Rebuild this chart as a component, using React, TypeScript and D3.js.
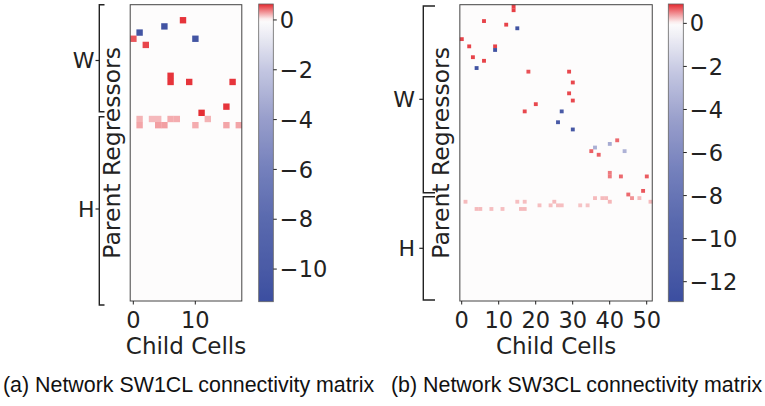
import React from 'react';
import * as d3 from 'd3';

// ---------- data ----------
// Network SW1CL: 18 child cells, W block 18 rows, H block 30 rows
const colsA = 18;
const rowsWA = 18;
const rowsHA = 30;
const cellsA: [number, number, number][] = [
  [2, 8, 0.6], [3, 5, -10.8], [4, 1, -10.6], [5, 0, 0.5], [5, 10, -10.6],
  [6, 2, 0.55], [11, 6, 0.6], [12, 6, 0.6], [12, 9, 0.6], [12, 16, 0.6],
  [16, 15, 0.6], [17, 11, 0.62],
  [18, 1, 0.22], [18, 3, 0.2], [18, 4, 0.2], [18, 6, 0.24], [18, 7, 0.24], [18, 12, 0.22],
  [19, 1, 0.26], [19, 4, 0.28], [19, 5, 0.28], [19, 10, 0.24], [19, 15, 0.26], [19, 17, 0.26],
];
const xTicksA = [0, 10];
const cbTicksA = [0, -2, -4, -6, -8, -10];
const domainA: [number, number] = [-11.31, 0.64];

// Network SW3CL: 52 child cells, W block 52 rows, H block 30 rows
const colsB = 52;
const rowsWB = 52;
const rowsHB = 30;
const cellsB: [number, number, number][] = [
  [0, 14, 0.8], [1, 14, 0.8], [4, 6, 0.78], [5, 12, 0.78], [6, 15, -12.3],
  [9, 0, 0.78], [11, 2, 0.78], [11, 9, 0.78], [12, 9, -12.3], [14, 3, 0.78],
  [15, 6, 0.78], [17, 4, -12.3], [18, 18, 0.72], [18, 29, 0.76], [21, 30, 0.76],
  [24, 29, 0.76], [26, 30, 0.76], [27, 20, 0.76], [29, 17, 0.76], [29, 27, -11.5],
  [32, 26, -11.5], [34, 30, -11.8], [37, 42, 0.62], [38, 40, -3.8], [39, 36, -3.6],
  [40, 35, 0.66], [40, 44, -3.4], [41, 37, 0.66], [46, 40, 0.55], [47, 40, 0.55],
  [47, 43, 0.62], [47, 50, 0.68], [51, 49, 0.7], [52, 45, 0.62],
  [53, 36, 0.28], [53, 38, 0.28], [53, 39, 0.28], [53, 46, 0.45], [53, 48, 0.28],
  [54, 1, 0.28], [54, 15, 0.26], [54, 17, 0.26], [54, 25, 0.28], [54, 40, 0.3], [54, 51, 0.28],
  [55, 21, 0.26], [55, 24, 0.26], [55, 26, 0.26], [55, 27, 0.26], [55, 32, 0.24], [55, 34, 0.24],
  [56, 4, 0.28], [56, 5, 0.28], [56, 8, 0.26], [56, 11, 0.26], [56, 16, 0.28], [56, 17, 0.28],
];
const xTicksB = [0, 10, 20, 30, 40, 50];
const cbTicksB = [0, -2, -4, -6, -8, -10, -12];
const domainB: [number, number] = [-12.93, 0.9];

const captionA = '(a) Network SW1CL connectivity matrix';
const captionB = '(b) Network SW3CL connectivity matrix';

// ---------- colour map (diverging, centred at 0) ----------
const negStops: [number, string][] = [
  [0, '#fdfcfc'], [0.18, '#c3c6e1'], [0.35, '#989ecb'], [0.53, '#7480bc'],
  [0.71, '#5969ae'], [0.88, '#4a5ba6'], [1, '#3b4ea0'],
];
const posStops: [number, string][] = [[0, '#fdfcfc'], [1, '#e4272e']];

function makeColor(vmin: number, vmax: number) {
  const neg = d3.scaleLinear<string>()
    .domain(negStops.map(s => s[0] * vmin))
    .range(negStops.map(s => s[1]))
    .interpolate(d3.interpolateRgb);
  const pos = d3.scaleLinear<string>()
    .domain(posStops.map(s => s[0] * vmax))
    .range(posStops.map(s => s[1]))
    .interpolate(d3.interpolateRgb);
  return (v: number) => (v < 0 ? neg(v) : pos(v));
}

const fmt = (v: number) => (v < 0 ? '\u2212' + Math.abs(v) : String(v));
const DV = '"DejaVu Sans", sans-serif';
const INK = '#222';
const TICK_FS = 22.5;

type PanelProps = {
  id: string;
  nCols: number; rowsW: number; rowsH: number;
  cells: [number, number, number][];
  xTicks: number[]; cbTicks: number[]; domain: [number, number];
  px: [number, number]; py: [number, number];
  cbx: [number, number]; cby: [number, number];
  bracketX: number; hook: number; tickLen: number;
  wSpan: [number, number]; hSpan: [number, number];
  wY: number; hY: number; labelEnd: number; ylabX: number;
};

function Panel(p: PanelProps) {
  const nRows = p.rowsW + p.rowsH;
  const color = makeColor(p.domain[0], p.domain[1]);
  const x = d3.scaleBand<number>().domain(d3.range(p.nCols)).range(p.px);
  const y = d3.scaleBand<number>().domain(d3.range(nRows)).range(p.py);
  const cb = d3.scaleLinear().domain(p.domain).range([p.cby[1], p.cby[0]]);
  const samples = d3.range(0, 101).map(i => i / 100);
  const midX = (p.px[0] + p.px[1]) / 2;
  const bw = x.bandwidth();
  const bh = y.bandwidth();
  const bracket = (y0: number, y1: number) =>
    `M${p.bracketX + p.hook},${y0} H${p.bracketX} V${y1} H${p.bracketX + p.hook}`;
  return (
    <g>
      <defs>
        <linearGradient id={p.id} x1="0" y1="1" x2="0" y2="0">
          {samples.map(t => {
            const v = p.domain[0] + t * (p.domain[1] - p.domain[0]);
            return <stop key={t} offset={t} stopColor={color(v)} />;
          })}
        </linearGradient>
      </defs>
      {/* heatmap */}
      <rect x={p.px[0]} y={p.py[0]} width={p.px[1] - p.px[0]} height={p.py[1] - p.py[0]} fill={color(0)} />
      {p.cells.map(([r, c, v], i) => (
        <rect key={i} x={x(c)} y={y(r)} width={bw + 0.2} height={bh + 0.2} fill={color(v)} />
      ))}
      <rect x={p.px[0]} y={p.py[0]} width={p.px[1] - p.px[0]} height={p.py[1] - p.py[0]} fill="none" stroke="#444" strokeWidth={1} />
      {/* x axis */}
      {p.xTicks.map(t => {
        const cx = (x(t) as number) + bw / 2;
        return (
          <g key={t}>
            <line x1={cx} x2={cx} y1={p.py[1]} y2={p.py[1] + 3.5} stroke={INK} strokeWidth={1} />
            <text x={cx} y={328} textAnchor="middle" fontFamily={DV} fontSize={TICK_FS} fill={INK}>{t}</text>
          </g>
        );
      })}
      <text x={midX} y={354} textAnchor="middle" fontFamily={DV} fontSize={23} fill={INK}>Child Cells</text>
      {/* y label */}
      <text transform={`translate(${p.ylabX},${(p.py[0] + p.py[1]) / 2}) rotate(-90)`} textAnchor="middle"
        fontFamily={DV} fontSize={23.5} fill={INK}>Parent Regressors</text>
      {/* brackets */}
      <path d={bracket(p.wSpan[0], p.wSpan[1])} fill="none" stroke={INK} strokeWidth={1.4} />
      <path d={bracket(p.hSpan[0], p.hSpan[1])} fill="none" stroke={INK} strokeWidth={1.4} />
      <line x1={p.bracketX - p.tickLen} x2={p.bracketX} y1={p.wY} y2={p.wY} stroke={INK} strokeWidth={1.2} />
      <line x1={p.bracketX - p.tickLen} x2={p.bracketX} y1={p.hY} y2={p.hY} stroke={INK} strokeWidth={1.2} />
      <text x={p.labelEnd} y={p.wY} dy="0.36em" textAnchor="end" fontFamily={DV} fontSize={22} fill={INK}>W</text>
      <text x={p.labelEnd} y={p.hY} dy="0.36em" textAnchor="end" fontFamily={DV} fontSize={22} fill={INK}>H</text>
      {/* colorbar */}
      <rect x={p.cbx[0]} y={p.cby[0]} width={p.cbx[1] - p.cbx[0]} height={p.cby[1] - p.cby[0]} fill={`url(#${p.id})`} stroke="#666" strokeWidth={0.8} />
      {p.cbTicks.map(t => (
        <g key={t}>
          <line x1={p.cbx[1]} x2={p.cbx[1] + 3.5} y1={cb(t)} y2={cb(t)} stroke={INK} strokeWidth={1} />
          <text x={p.cbx[1] + 6.5} y={cb(t)} dy="0.36em" fontFamily={DV} fontSize={TICK_FS} fill={INK}>{fmt(t)}</text>
        </g>
      ))}
    </g>
  );
}

export default function App() {
  return (
    <svg width={765} height={406} viewBox="0 0 765 406"
      style={{ position: 'absolute', left: 0, top: 0, background: '#fff', display: 'block' }}>
      <rect width={765} height={406} fill="#fff" />
      <Panel id="cbA" nCols={colsA} rowsW={rowsWA} rowsH={rowsHA} cells={cellsA}
        xTicks={xTicksA} cbTicks={cbTicksA} domain={domainA}
        px={[130.2, 130.2 + colsA * 6.2]} py={[4.7, 301]}
        cbx={[258.7, 273.3]} cby={[4, 301.7]}
        bracketX={99.3} hook={5.2} tickLen={3.8}
        wSpan={[4.7, 111.7]} hSpan={[116.7, 305]} wY={60.5} hY={209}
        labelEnd={94.5} ylabX={120} />
      <Panel id="cbB" nCols={colsB} rowsW={rowsWB} rowsH={rowsHB} cells={cellsB}
        xTicks={xTicksB} cbTicks={cbTicksB} domain={domainB}
        px={[459.85, 459.85 + colsB * 3.7]} py={[4.7, 301]}
        cbx={[668.3, 683.3]} cby={[4, 301.7]}
        bracketX={423.3} hook={11.7} tickLen={4}
        wSpan={[6, 192.7]} hSpan={[196.7, 300]} wY={99.3} hY={248.3}
        labelEnd={415} ylabX={449} />
      <text x={3} y={392} fontFamily='"Liberation Sans", Arial, sans-serif' fontSize={21.4} fill="#111">{captionA}</text>
      <text x={391} y={392} fontFamily='"Liberation Sans", Arial, sans-serif' fontSize={21.4} fill="#111">{captionB}</text>
    </svg>
  );
}
